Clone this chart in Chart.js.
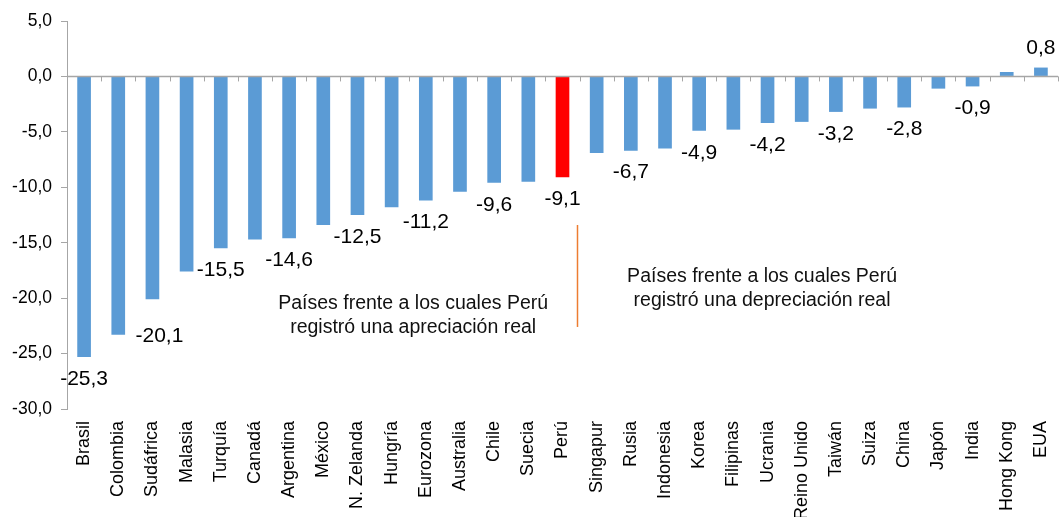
<!DOCTYPE html>
<html>
<head>
<meta charset="utf-8">
<script src="https://cdn.jsdelivr.net/npm/chart.js@4"></script>
<style>
  html, body { margin: 0; padding: 0; background: #fff; }
  #wrap { width: 1060px; height: 517px; }
</style>
</head>
<body>
<div id="wrap"><canvas id="chart" width="1060" height="517"></canvas></div>
<script>
const categories = ['Brasil', 'Colombia', 'Sudáfrica', 'Malasia', 'Turquía', 'Canadá', 'Argentina',
    'México', 'N. Zelanda', 'Hungría', 'Eurozona', 'Australia', 'Chile', 'Suecia', 'Perú',
    'Singapur', 'Rusia', 'Indonesia', 'Korea', 'Filipinas', 'Ucrania', 'Reino Unido', 'Taiwán',
    'Suiza', 'China', 'Japón', 'India', 'Hong Kong', 'EUA'];
const values = [-25.3, -23.3, -20.1, -17.6, -15.5, -14.7, -14.6,
    -13.4, -12.5, -11.8, -11.2, -10.4, -9.6, -9.5, -9.1,
    -6.9, -6.7, -6.5, -4.9, -4.8, -4.2, -4.1, -3.2,
    -2.9, -2.8, -1.1, -0.9, 0.4, 0.8];
const labeledCategories = ['Brasil', 'Sudáfrica', 'Turquía', 'Argentina', 'N. Zelanda', 'Eurozona',
    'Chile', 'Perú', 'Rusia', 'Korea', 'Ucrania', 'Taiwán', 'China', 'India', 'EUA'];
const highlighted = 'Perú';
const yMin = -30;
const yMax = 5;
const yStep = 5;
const noteLeft = ['Países frente a los cuales Perú', 'registró una apreciación real'];
const noteRight = ['Países frente a los cuales Perú', 'registró una depreciación real'];

const FONT = "'Liberation Sans', Arial, sans-serif";
const fmt = v => v.toFixed(1).replace('.', ',');

// zero axis line with tick marks, value labels and the two notes
const overlayPlugin = {
    id: 'overlay',
    afterDatasetsDraw(chart) {
        const ctx = chart.ctx;
        const x = chart.scales.x;
        const y = chart.scales.y;
        const area = chart.chartArea;
        const y0 = y.getPixelForValue(0);

        ctx.save();
        ctx.strokeStyle = '#a6a6a6';
        ctx.lineWidth = 1.5;
        ctx.beginPath();
        ctx.moveTo(area.left, y0);
        ctx.lineTo(area.right, y0);
        ctx.stroke();
        ctx.lineWidth = 1;
        for (let i = 1; i <= categories.length; i++) {
            const px = Math.round(x.getPixelForValue(i - 0.5)) + 0.5;
            ctx.beginPath();
            ctx.moveTo(px, y0);
            ctx.lineTo(px, y0 + 5);
            ctx.stroke();
        }

        // value labels
        const meta = chart.getDatasetMeta(0);
        ctx.fillStyle = '#000';
        ctx.font = '21px ' + FONT;
        ctx.textAlign = 'center';
        ctx.textBaseline = 'middle';
        categories.forEach((c, i) => {
            if (!labeledCategories.includes(c)) return;
            const bar = meta.data[i];
            let lx = bar.x;
            let ly = values[i] < 0 ? bar.y + 22 : bar.y - 19;
            if (c === 'Sudáfrica') { lx += 7; ly += 15; }
            ctx.fillText(fmt(values[i]), lx, ly);
        });

        // notes
        ctx.font = '19.5px ' + FONT;
        ctx.fillStyle = '#111';
        const drawNote = (lines, idx, val) => {
            const nx = x.getPixelForValue(idx);
            let ny = y.getPixelForValue(val);
            lines.forEach(t => { ctx.fillText(t, nx, ny); ny += 23.5; });
        };
        drawNote(noteLeft, 9.63, -20.5);
        drawNote(noteRight, 19.84, -18.1);

        // divider line
        const dx = Math.round(x.getPixelForValue(14.43)) + 0.5;
        ctx.strokeStyle = '#ED7D31';
        ctx.lineWidth = 1.5;
        ctx.beginPath();
        ctx.moveTo(dx, y.getPixelForValue(-13.4));
        ctx.lineTo(dx, y.getPixelForValue(-22.6));
        ctx.stroke();
        ctx.restore();
    }
};

new Chart(document.getElementById('chart'), {
    type: 'bar',
    data: {
        labels: categories,
        datasets: [{
            data: values,
            backgroundColor: categories.map(c => c === highlighted ? '#FF0000' : '#5B9BD5'),
            categoryPercentage: 1,
            barPercentage: 0.4
        }]
    },
    options: {
        responsive: false,
        animation: false,
        layout: { padding: { top: 21, right: 2, left: 0, bottom: 0 } },
        plugins: {
            legend: { display: false },
            tooltip: { enabled: false }
        },
        scales: {
            x: {
                grid: { display: false, drawTicks: false },
                border: { display: false },
                ticks: {
                    autoSkip: false,
                    maxRotation: 90,
                    minRotation: 90,
                    padding: 12,
                    color: '#000',
                    font: { family: FONT, size: 18 }
                },
                afterFit(scale) {
                    scale.height = 108;
                    scale.paddingLeft = 0;
                    scale.paddingRight = 0;
                }
            },
            y: {
                min: yMin,
                max: yMax,
                grid: { drawOnChartArea: false, drawTicks: true, tickLength: 6, color: '#a6a6a6' },
                border: { display: true, color: '#a6a6a6', width: 1 },
                ticks: {
                    stepSize: yStep,
                    padding: 9,
                    color: '#000',
                    font: { family: FONT, size: 17.5 },
                    callback: v => fmt(v)
                },
                afterFit(scale) { scale.width = 67; }
            }
        }
    },
    plugins: [overlayPlugin]
});
</script>
</body>
</html>
